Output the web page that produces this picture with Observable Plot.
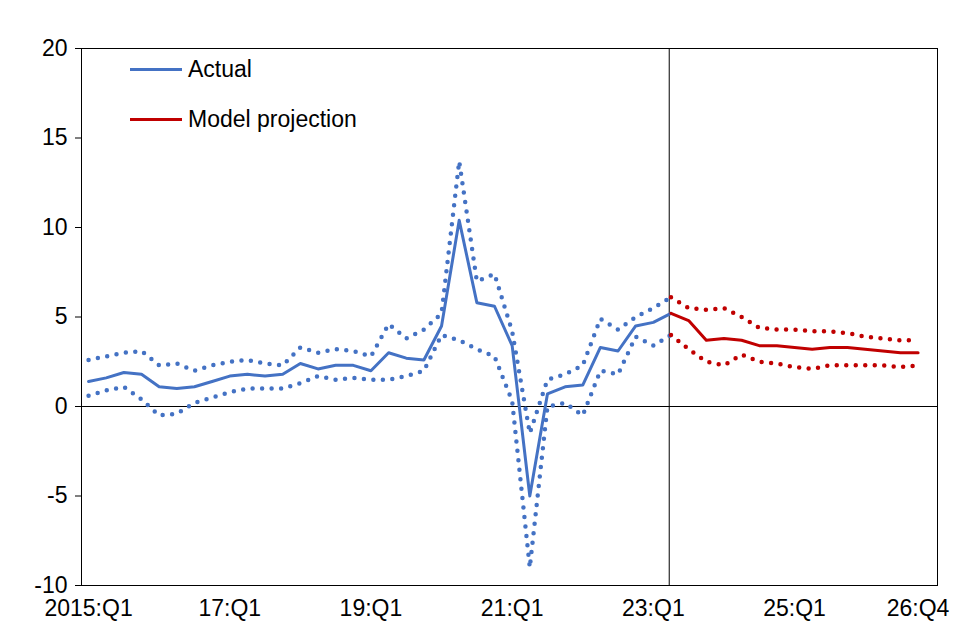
<!DOCTYPE html>
<html><head><meta charset="utf-8">
<script src="https://cdn.jsdelivr.net/npm/d3@7"></script>
<script src="https://cdn.jsdelivr.net/npm/@observablehq/plot@0.6"></script>
<style>
body{margin:0;background:#fff;font-family:"Liberation Sans",Arial,sans-serif}
#wrap{position:relative;width:954px;height:636px}
.leg{position:absolute;font-size:23px;display:flex;align-items:center}
.leg span{display:inline-block;width:52px;height:3px;margin-right:6px}
</style></head><body>
<div id="wrap">
<div class="leg" style="left:130px;top:56px"><span style="background:#4472C4"></span>Actual</div>
<div class="leg" style="left:130px;top:106px"><span style="background:#C00000"></span>Model projection</div>
</div>
<script>
const actual = [1.4,1.6,1.9,1.8,1.1,1.0,1.1,1.4,1.7,1.8,1.7,1.8,2.4,2.1,2.3,2.3,2.0,3.0,2.7,2.6,4.5,10.4,5.8,5.6,3.4,-5.0,0.7,1.1,1.2,3.3,3.1,4.5,4.7,5.2];
const actualHi = [2.6,2.8,3.0,3.1,2.3,2.4,2.0,2.3,2.5,2.6,2.4,2.3,3.3,3.0,3.2,3.1,2.8,4.6,3.8,4.3,5.2,13.7,7.0,7.4,4.2,-1.5,1.5,1.8,2.3,4.9,4.3,5.0,5.5,6.1];
const actualLo = [0.6,0.9,1.1,0.4,-0.5,-0.4,0.2,0.5,0.8,1.0,1.0,1.0,1.3,1.7,1.5,1.6,1.5,1.5,1.7,2.0,4.0,3.7,3.2,2.8,0.3,-9.0,0.0,0.2,-0.5,2.0,1.8,3.9,3.4,4.0];
const proj = [5.2,4.8,3.7,3.8,3.7,3.4,3.4,3.3,3.2,3.3,3.3,3.2,3.1,3.0,3.0];
const projHi = [6.1,5.5,5.4,5.5,5.0,4.4,4.3,4.3,4.2,4.2,4.1,3.9,3.8,3.7,3.7];
const projLo = [4.0,3.2,2.5,2.3,2.9,2.5,2.4,2.2,2.1,2.3,2.3,2.3,2.3,2.2,2.3];
const projStart = 33;
const tickIdx = [0,8,16,24,32,40,47];
const tickLabels = ["2015:Q1","17:Q1","19:Q1","21:Q1","23:Q1","25:Q1","26:Q4"];

const A = v => v.map((y,i)=>({x:i,y}));
const P = v => v.map((y,i)=>({x:i+projStart,y}));
const blue = "#4472C4", red = "#C00000";
const dot = {strokeWidth:4.5, strokeDasharray:"0,9.5", strokeLinecap:"round"};

const chart = Plot.plot({
  width:954, height:636,
  marginLeft:81, marginRight:17, marginTop:48, marginBottom:51,
  style:{fontFamily:"Liberation Sans, Arial, sans-serif", fontSize:"23px", color:"#000", background:"#fff"},
  x:{domain:[-0.4,48.1], label:null},
  y:{domain:[-10,20], label:null},
  marks:[
    Plot.frame({stroke:"#000"}),
    Plot.axisY({ticks:[-10,-5,0,5,10,15,20], tickFormat:d=>String(d), tickSize:6, tickPadding:8, fontSize:23, label:null}),
    Plot.axisX({ticks:tickIdx, tickFormat:d=>tickLabels[tickIdx.indexOf(d)], tickSize:0, tickPadding:14, fontSize:23, label:null}),
    Plot.ruleY([0],{stroke:"#000", strokeWidth:1}),
    Plot.ruleX([projStart-0.1],{stroke:"#000", strokeWidth:1}),
    Plot.line(A(actualHi),{x:"x",y:"y",stroke:blue,...dot}),
    Plot.line(A(actualLo),{x:"x",y:"y",stroke:blue,...dot}),
    Plot.line(P(projHi),{x:"x",y:"y",stroke:red,...dot}),
    Plot.line(P(projLo),{x:"x",y:"y",stroke:red,...dot}),
    Plot.line(A(actual),{x:"x",y:"y",stroke:blue,strokeWidth:3}),
    Plot.line(P(proj),{x:"x",y:"y",stroke:red,strokeWidth:3})
  ]
});
document.getElementById("wrap").prepend(chart);
</script></body></html>
